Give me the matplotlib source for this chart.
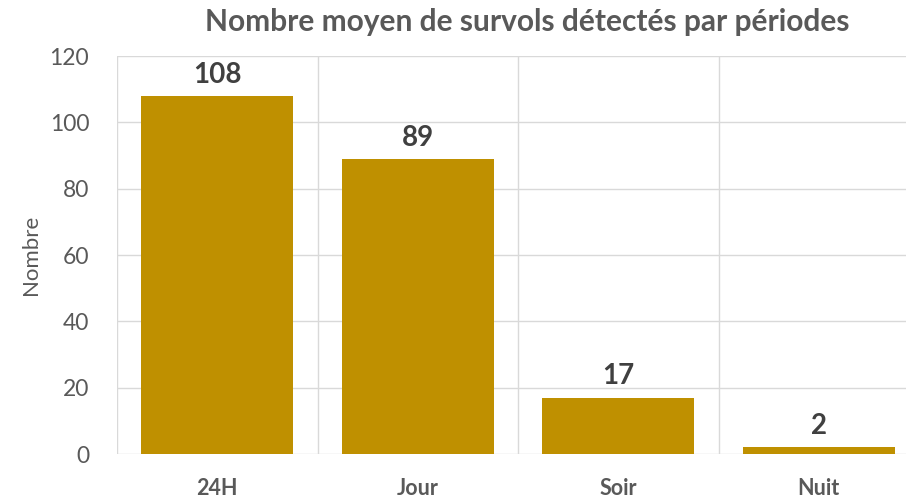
import numpy as np
import matplotlib.pyplot as plt

# Data
categories = ['24H', 'Jour', 'Soir', 'Nuit']
values = [108, 89, 17, 2]
yticks = [0, 20, 40, 60, 80, 100, 120]

plt.rcParams['font.family'] = ['Lato', 'DejaVu Sans']

fig = plt.figure(figsize=(9.06, 4.98), dpi=100)
ax = fig.add_axes([117 / 906, 44 / 498, 802 / 906, 398 / 498])

x = np.arange(len(categories))
ax.bar(x, values, width=0.76, color='#BF9000', zorder=3)

for xi, v in zip(x, values):
    ax.text(xi, v + 2.5, str(v), ha='center', va='bottom',
            fontsize=20, fontweight='bold', color='#404040')

ax.set_xlim(-0.5, len(categories) - 0.5)
ax.set_ylim(0, 120)
ax.set_yticks(yticks)
ax.set_yticklabels([str(t) for t in yticks], fontsize=16.5, color='#595959')
ax.set_xticks(x)
ax.set_xticklabels(categories, fontsize=15.5, fontweight='bold', color='#595959')
ax.tick_params(axis='both', length=0)
ax.tick_params(axis='y', pad=20)
ax.tick_params(axis='x', pad=17)

# grid: horizontal at ticks, vertical at category boundaries
ax.yaxis.grid(True, color='#D9D9D9', linewidth=1, zorder=0)
for b in np.arange(-0.5, len(categories), 1.0):
    ax.axvline(b, color='#D9D9D9', linewidth=1, zorder=0)

for s in ax.spines.values():
    s.set_visible(False)

ax.set_ylabel('Nombre', fontsize=16, color='#595959', labelpad=6)
fig.text(0.582, 0.956, 'Nombre moyen de survols détectés par périodes',
         ha='center', va='center', fontsize=21.5, fontweight='bold', color='#595959')

fig.savefig('out.png', dpi=100)
